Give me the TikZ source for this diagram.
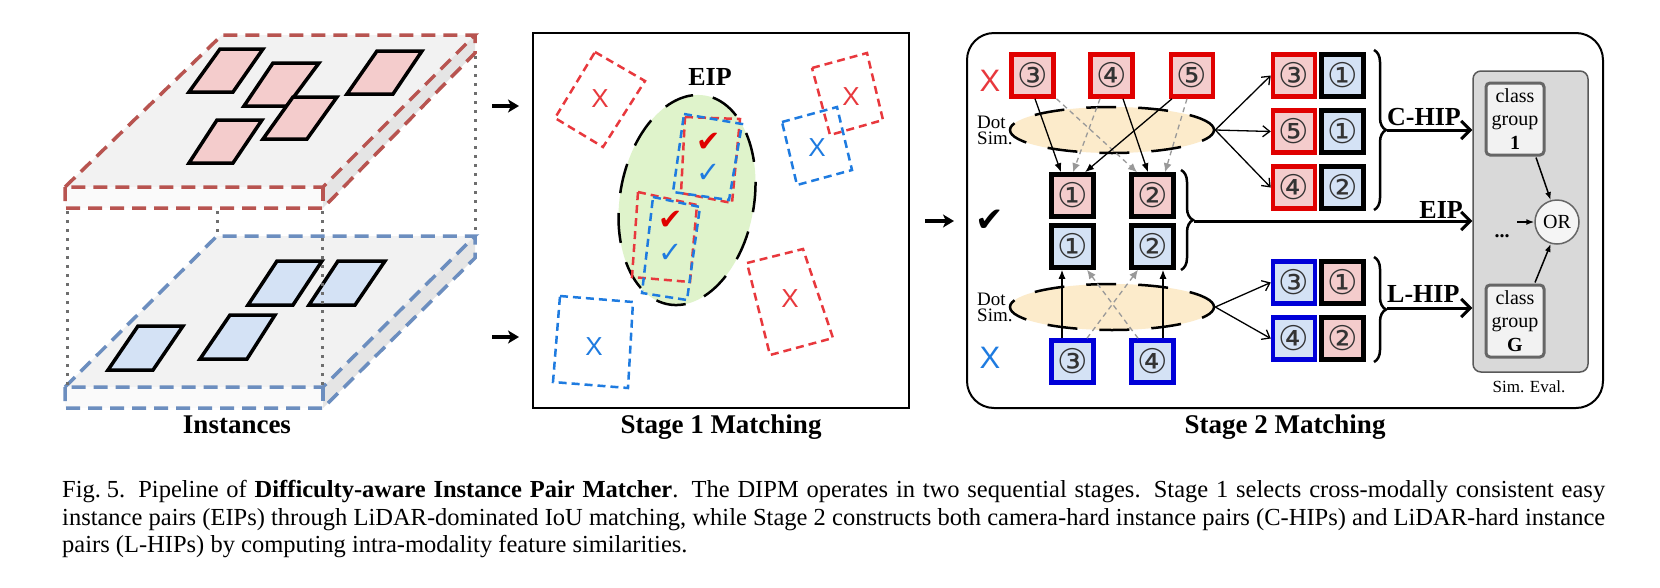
\documentclass[tikz,border=0pt]{standalone}
\usepackage{fontspec}
\setmainfont{Liberation Serif}
\newfontfamily\sansf{Liberation Sans}
\newfontfamily\djv{DejaVu Sans}
\usetikzlibrary{arrows.meta,shapes.geometric,decorations.pathreplacing,calc}
\definecolor{slabred}{HTML}{B85450}
\definecolor{slabblue}{HTML}{6C8EBF}
\definecolor{pinkfill}{HTML}{F4CCCC}
\definecolor{bluefill}{HTML}{D4E2F5}
\definecolor{boxred}{HTML}{E00000}
\definecolor{boxblue}{HTML}{0000D8}
\definecolor{dotgray}{HTML}{6E6E6E}
\definecolor{xred}{HTML}{E8383D}
\definecolor{xblue}{HTML}{1E7BE0}
\definecolor{eipgreen}{HTML}{DFF3CB}
\definecolor{simorange}{HTML}{FCEBCB}
\newcommand{\myfs}[2]{\fontsize{#1}{#2}\selectfont}
\begin{document}
\begin{tikzpicture}[x=1pt,y=-1pt,
  slabR/.style={draw=slabred, line width=3.5, dash pattern=on 14 off 8},
  slabB/.style={draw=slabblue, line width=3.5, dash pattern=on 14 off 8},
  dotv/.style={draw=dotgray, line width=3, dash pattern=on 3 off 6},
  parR/.style={draw=black, line width=3.5, fill=pinkfill},
  parB/.style={draw=black, line width=3.5, fill=bluefill},
  sred/.style={draw=xred, line width=2.5, dash pattern=on 8 off 5},
  sblue/.style={draw=xblue, line width=2.5, dash pattern=on 8 off 5},
  cbox/.style={minimum size=42, inner sep=0, line width=4.5, font=\djv\myfs{34}{34}, text=black!80},
  redbox/.style={cbox, draw=boxred, fill=pinkfill},
  blkred/.style={cbox, draw=black, fill=pinkfill},
  blkblue/.style={cbox, draw=black, fill=bluefill},
  bluebox/.style={cbox, draw=boxblue, fill=bluefill},
  simell/.style={ellipse, minimum width=204, minimum height=46, fill=simorange, draw=black, line width=2.5, dash pattern=on 30 off 22},
  thickarr/.style={line width=3.5, -{Stealth[length=11,width=13,inset=3]}},
  bigarr/.style={line width=3, -{Straight Barb[length=9,width=18,line width=3]}},
  fanarr/.style={line width=1.3, -{Straight Barb[length=7,width=11]}},
  solarr/.style={line width=1.3, -{Latex[length=9,width=7]}},
  gryarr/.style={draw=black!40, line width=1.3, dash pattern=on 5 off 4, -{Latex[length=9,width=8]}},
  smallarr/.style={line width=1.5, -{Latex[length=8,width=6]}},
  brc/.style={decorate, decoration={brace, amplitude=12}, line width=2.5},
  title/.style={anchor=base, font=\bfseries\myfs{27}{27}, inner sep=0},
  checkf/.style={font=\djv\myfs{29}{29}, inner sep=0},
  xmark/.style={font=\sansf\myfs{26}{26}, inner sep=0},
  capf/.style={anchor=base west, inner sep=0, font=\myfs{24.5}{27}},
  dotsim/.style={anchor=west, align=left, font=\myfs{19}{16}, inner sep=0},
  cgbox/.style={draw=black!60, fill=black!5, line width=3, rounded corners=4, minimum width=58, minimum height=72, align=center, font=\myfs{20}{23.5}, inner sep=0}
]
\useasboundingbox (0,0) rectangle (1660,587);
\fill[white] (0,0) rectangle (1660,587);

%================ Left: instances =================
% lower (blue) slab
\fill[black!5] (65,387) -- (323,387) -- (475,236) -- (217,236) -- cycle;
\fill[black!10] (323,387) -- (475,236) -- (475,258) -- (323,408) -- cycle;
\fill[black!2] (65,387) rectangle (323,408);
\draw[parB] (108,370) -- (153,370) -- (183,326) -- (138,326) -- cycle;
\draw[parB] (200,359) -- (247,359) -- (275,315) -- (230,315) -- cycle;
\draw[parB] (248,305) -- (293,305) -- (322,261) -- (277,261) -- cycle;
\draw[parB] (309,305) -- (355,305) -- (385,261) -- (338,261) -- cycle;
\draw[slabB] (65,387) -- (217,236) -- (475,236) -- (323,387) -- cycle;
\draw[slabB] (65,387) -- (65,408) -- (323,408) -- (475,258) -- (475,236);
\draw[slabB] (323,387) -- (323,408);
% upper (red) slab
\fill[black!5] (65,187) -- (323,187) -- (475,35) -- (222,35) -- cycle;
\fill[black!10] (323,187) -- (475,35) -- (475,53) -- (323,208) -- cycle;
\fill[black!2] (65,187) rectangle (323,208);
\draw[parR] (189,92) -- (233,92) -- (263,49) -- (220,49) -- cycle;
\draw[parR] (347,94) -- (393,94) -- (422,51) -- (377,51) -- cycle;
\draw[parR] (244,106) -- (287,106) -- (319,63) -- (273,63) -- cycle;
\draw[parR] (263,139) -- (307,139) -- (337,97) -- (293,97) -- cycle;
\draw[parR] (189,163) -- (233,163) -- (262,120) -- (217,120) -- cycle;
\draw[slabR] (65,187) -- (222,35) -- (475,35) -- (323,187) -- cycle;
\draw[slabR] (65,187) -- (65,208) -- (323,208) -- (475,53) -- (475,35);
\draw[slabR] (323,187) -- (323,208);
% dotted vertical edges
\draw[dotv] (67,211) -- (67,385);
\draw[dotv] (322,211) -- (322,385);
\draw[dotv] (475,56) -- (475,234);
\draw[dotv] (217,211) -- (217,234);
\node[title] (tinst) at (237,433) {Instances};

% arrows into stage 1
\coordinate (la1) at (492,106); \coordinate (la1e) at (519,106);
\coordinate (la2) at (492,337); \coordinate (la2e) at (519,337);
\draw[thickarr] (la1) -- (la1e);
\draw[thickarr] (la2) -- (la2e);

%================ Stage 1 =================
\node[draw, line width=2, minimum width=376, minimum height=375, inner sep=0] (s1) at (721,220.5) {};
\node[ellipse, minimum width=134, minimum height=212, rotate=-10, fill=eipgreen, draw=black, line width=2.5, dash pattern=on 30 off 20] (eip) at (687,200) {};
\node[font=\bfseries\myfs{26}{26}] (eiplab) at (710,77) {EIP};
% outer boxes
\draw[sred] (595,52) -- (645,81) -- (603,147) -- (555,118) -- cycle;
\node[xmark, text=xred] (xa) at (600,99) {X};
\draw[sred] (812,68) -- (867,53) -- (883,120) -- (830,135) -- cycle;
\node[xmark, text=xred] (xb) at (851,97) {X};
\draw[sblue] (782,122) -- (837,107) -- (852,170) -- (797,185) -- cycle;
\node[xmark, text=xblue] (xc) at (817,148) {X};
\draw[sred] (747,263) -- (803,249) -- (833,338) -- (770,355) -- cycle;
\node[xmark, text=xred] (xd) at (790,299) {X};
\draw[sblue] (560,296) -- (633,302) -- (628,388) -- (553,382) -- cycle;
\node[xmark, text=xblue] (xe) at (594,347) {X};
% inner matched boxes
\draw[sred] (685,117) -- (740,119) -- (732,203) -- (681,193) -- cycle;
\draw[sblue] (684,114) -- (742,124) -- (729,200) -- (673,192) -- cycle;
\draw[sred] (638,192) -- (697,205) -- (690,282) -- (632,277) -- cycle;
\draw[sblue] (653,197) -- (700,207) -- (687,300) -- (642,293) -- cycle;
\node[checkf, text=boxred] (ck1) at (709,142) {✔};
\node[checkf, text=xblue] (ck2) at (709,173) {✓};
\node[checkf, text=boxred] (ck3) at (671,220) {✔};
\node[checkf, text=xblue] (ck4) at (671,253) {✓};
\node[title] (t1) at (721,433) {Stage 1 Matching};

% arrow into stage 2
\coordinate (la3) at (925,221); \coordinate (la3e) at (954,221);
\draw[thickarr] (la3) -- (la3e);

%================ Stage 2 =================
\node[draw, line width=2, rounded corners=27, minimum width=636, minimum height=375, inner sep=0] (s2) at (1285,220.5) {};
\node[simell] (ds1) at (1112,130) {};
\node[simell] (ds2) at (1112,307) {};
\node[dotsim] (dl1) at (977,130) {Dot\\Sim.};
\node[dotsim] (dl2) at (977,307) {Dot\\Sim.};
\node[font=\sansf\myfs{31}{31}, text=xred, inner sep=0] (xr) at (990,81) {X};
\node[font=\sansf\myfs{31}{31}, text=xblue, inner sep=0] (xbl) at (990,358) {X};
\node[font=\djv\myfs{34}{34}, inner sep=0] (ckb) at (990,221) {✔};

\node[redbox] (t3) at (1032.5,75.5) {③};
\node[redbox] (t4) at (1111.5,75.5) {④};
\node[redbox] (t5) at (1192,75.5) {⑤};
\node[blkred] (m1r) at (1072.5,195.5) {①};
\node[blkred] (m2r) at (1152.5,195.5) {②};
\node[blkblue] (m1b) at (1072.5,246.5) {①};
\node[blkblue] (m2b) at (1152.5,246.5) {②};
\node[bluebox] (b3) at (1072.5,361.5) {③};
\node[bluebox] (b4) at (1152.5,361.5) {④};

\node[redbox] (c3) at (1294,75.5) {③};   \node[blkblue] (c3p) at (1342.5,75.5) {①};
\node[redbox] (c5) at (1294,131.5) {⑤};  \node[blkblue] (c5p) at (1342.5,131.5) {①};
\node[redbox] (c4) at (1294,187.5) {④};  \node[blkblue] (c4p) at (1342.5,187.5) {②};
\node[bluebox] (l3) at (1294,282.5) {③}; \node[blkred] (l3p) at (1342.5,282.5) {①};
\node[bluebox] (l4) at (1294,338.5) {④}; \node[blkred] (l4p) at (1342.5,338.5) {②};

% dashed gray arrows (upper)
\draw[gryarr] ($(t3.south)+(24,0)$) -- ($(m2r.north)+(-15.5,0)$);
\draw[gryarr] ($(t4.south)+(-11.5,0)$) -- ($(m1r.north)+(0.5,0)$);
\draw[gryarr] ($(t5.south)+(-5,0)$) -- ($(m2r.north)+(12.5,0)$);
% solid arrows (upper)
\draw[solarr] ($(t3.south)+(2.5,0)$) -- ($(m1r.north)+(-11.5,0)$);
\draw[solarr] ($(t4.south)+(11.5,0)$) -- ($(m2r.north)+(-4.5,0)$);
\draw[solarr] ($(t5.south)+(-20,0)$) -- ($(m1r.north)+(12.5,0)$);
% lower
\draw[gryarr] ($(b3.north)+(14.5,0)$) -- ($(m2b.south)+(-14.5,0)$);
\draw[gryarr] ($(b4.north)+(-14.5,0)$) -- ($(m1b.south)+(14.5,0)$);
\draw[solarr] ($(b3.north)+(-10.5,0)$) -- ($(m1b.south)+(-10.5,0)$);
\draw[solarr] ($(b4.north)+(10.5,0)$) -- ($(m2b.south)+(10.5,0)$);

% fan arrows
\draw[fanarr] (ds1.east) -- (c3.west);
\draw[fanarr] (ds1.east) -- (c5.west);
\draw[fanarr] (ds1.east) -- (c4.west);
\draw[fanarr] (ds2.east) -- (l3.west);
\draw[fanarr] (ds2.east) -- (l4.west);

% braces
\draw[brc] (1374,50) -- (1374,210);
\draw[brc] (1181,170) -- (1181,270);
\draw[brc] (1374,257) -- (1374,362);
\coordinate (chip) at (1387,130);
\coordinate (eips) at (1194,221);
\coordinate (lhip) at (1387,308);

% similarity evaluation
\node[draw=black!65, fill=black!15, line width=1.5, rounded corners=8, minimum width=115, minimum height=301, inner sep=0] (sim) at (1530.5,221.5) {};
\draw[bigarr] (chip) -- (chip -| sim.west);
\draw[bigarr] (eips) -- (eips -| sim.west);
\draw[bigarr] (lhip) -- (lhip -| sim.west);
\node[anchor=base west, font=\bfseries\myfs{26}{26}, inner sep=0] (chipl) at (1387,125) {C-HIP};
\node[anchor=base east, font=\bfseries\myfs{26}{26}, inner sep=0] (eipl) at (1463,218) {EIP};
\node[anchor=base west, font=\bfseries\myfs{26}{26}, inner sep=0] (lhipl) at (1387,302) {L-HIP};

\node[cgbox] (cg1) at (1515,119) {class\\group\\\textbf{1}};
\node[cgbox] (cgG) at (1515,321) {class\\group\\\textbf{G}};
\node[draw=black!60, fill=black!4, circle, minimum size=44, line width=1.5, font=\myfs{20}{20}, inner sep=0] (or) at (1557,222) {OR};
\draw[smallarr] ($(cg1.south)+(21,1)$) -- (or.106);
\draw[smallarr] ($(cgG.north)+(20,-1)$) -- (or.254);
\coordinate (dotsin) at (1517,222);
\draw[smallarr] (dotsin) -- (or.west);
\node[anchor=base, font=\bfseries\myfs{20}{20}, inner sep=0] (dots) at (1502,237) {...};
\node[font=\myfs{17}{17}, inner sep=0] (simeval) at (1529,387) {Sim. Eval.};
\node[title] (t2) at (1285,433) {Stage 2 Matching};

%================ Caption =================
\node[capf] (cap1) at (62,497) {\makebox[1543pt][s]{Fig.\kern6pt5.\kern13pt Pipeline of \textbf{Difficulty-aware Instance Pair Matcher}. The DIPM operates in two sequential stages. Stage 1 selects cross-modally consistent easy}};
\node[capf] (cap2) at (62,525) {\makebox[1543pt][s]{instance pairs (EIPs) through LiDAR-dominated IoU matching, while Stage 2 constructs both camera-hard instance pairs (C-HIPs) and LiDAR-hard instance}};
\node[capf] (cap3) at (62,552) {pairs (L-HIPs) by computing intra-modality feature similarities.};
\end{tikzpicture}
\end{document}
